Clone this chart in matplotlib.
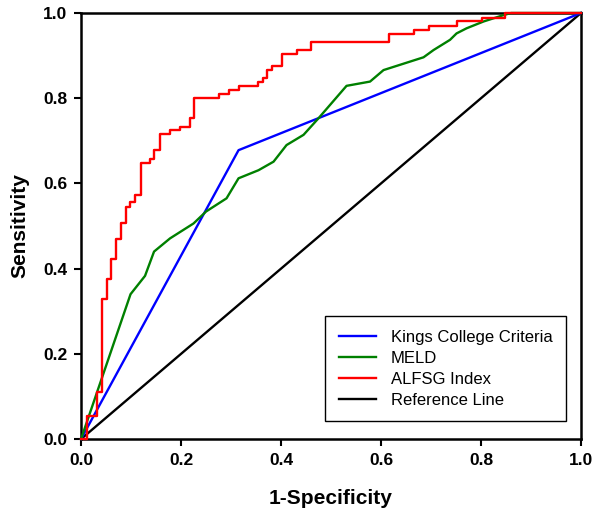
import matplotlib
matplotlib.use("Agg")
import matplotlib.pyplot as plt

plt.rcParams['font.family'] = ['Liberation Sans', 'DejaVu Sans']

# Kings College Criteria
kcc_x = [0.0, 0.315, 1.0]
kcc_y = [0.0, 0.678, 1.0]

# MELD
meld_x = [0.0, 0.099, 0.128, 0.146, 0.178, 0.225, 0.25, 0.291, 0.315, 0.355,
          0.385, 0.411, 0.445, 0.475, 0.531, 0.578, 0.605, 0.685, 0.705, 0.738,
          0.751, 0.771, 0.805, 0.845, 0.86, 1.0]
meld_y = [0.0, 0.340, 0.383, 0.440, 0.471, 0.506, 0.534, 0.565, 0.612, 0.631,
          0.651, 0.690, 0.714, 0.753, 0.829, 0.839, 0.866, 0.896, 0.913, 0.937,
          0.952, 0.964, 0.980, 0.995, 1.0, 1.0]

# ALFSG Index (step ROC: x where the curve rises, new sensitivity)
alfsg_x = [0.011, 0.031, 0.041, 0.051, 0.060, 0.069, 0.079, 0.089, 0.098, 0.108,
           0.119, 0.137, 0.146, 0.158, 0.178, 0.198, 0.217, 0.226, 0.276, 0.295,
           0.315, 0.353, 0.363, 0.371, 0.381, 0.401, 0.431, 0.460, 0.616, 0.665,
           0.695, 0.752, 0.801, 0.848]
alfsg_y = [0.054, 0.111, 0.329, 0.375, 0.423, 0.469, 0.508, 0.544, 0.556, 0.573,
           0.649, 0.657, 0.678, 0.715, 0.725, 0.733, 0.753, 0.800, 0.809, 0.819,
           0.829, 0.839, 0.848, 0.866, 0.876, 0.904, 0.912, 0.932, 0.951, 0.960,
           0.970, 0.982, 0.989, 1.0]

ref_x = [0.0, 1.0]
ref_y = [0.0, 1.0]

# build step path
sx, sy = [0.0], [0.0]
prev = 0.0
for x, y in zip(alfsg_x, alfsg_y):
    sx += [x, x]
    sy += [prev, y]
    prev = y
sx.append(1.0)
sy.append(prev)

fig = plt.figure(figsize=(6.02, 5.19), dpi=100)
ax = fig.add_axes([0.1346, 0.154, 0.8306, 0.821])

lw = 1.7
ax.plot(kcc_x, kcc_y, color='#0000ff', lw=lw, label='Kings College Criteria', zorder=3, clip_on=False)
ax.plot(meld_x, meld_y, color='#008000', lw=lw, label='MELD', zorder=4, clip_on=False)
ax.plot(sx, sy, color='#ff0000', lw=lw, label='ALFSG Index', zorder=5, clip_on=False)
ax.plot(ref_x, ref_y, color='black', lw=lw, label='Reference Line', zorder=2, clip_on=False)

ax.set_xlim(0, 1)
ax.set_ylim(0, 1)
ticks = [0.0, 0.2, 0.4, 0.6, 0.8, 1.0]
ax.set_xticks(ticks)
ax.set_yticks(ticks)
ax.set_xticklabels(['%.1f' % t for t in ticks], fontweight='bold', fontsize=12.5)
ax.set_yticklabels(['%.1f' % t for t in ticks], fontweight='bold', fontsize=12.5)
ax.tick_params(direction='out', length=5, width=1.5, top=False, right=False, pad=5)
for s in ax.spines.values():
    s.set_linewidth(1.8)

ax.set_xlabel('1-Specificity', fontsize=15, fontweight='bold', labelpad=15)
ax.set_ylabel('Sensitivity', fontsize=15, fontweight='bold', labelpad=10)

leg = ax.legend(loc='lower right', bbox_to_anchor=(0.97, 0.042), fontsize=12,
                frameon=True, fancybox=False, edgecolor='black', framealpha=1,
                handlelength=2.2, labelspacing=0.35, borderpad=0.82, handletextpad=0.9,
                borderaxespad=0)
leg.get_frame().set_linewidth(1.0)

fig.savefig('out.png', dpi=100)
